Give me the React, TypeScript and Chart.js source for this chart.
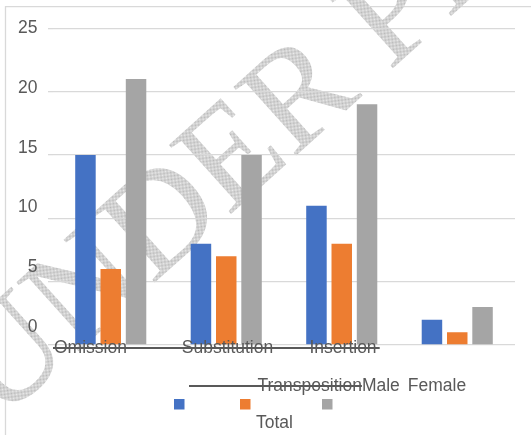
import React, { useEffect, useRef } from "react";
import { Chart, registerables } from "chart.js";

Chart.register(...registerables);

const categories = ["Omission", "Substitution", "Insertion", "Transposition"];
const seriesNames = ["Male", "Female", "Total"];
const maleValues = [15, 8, 11, 2];
const femaleValues = [6, 7, 8, 1];
const totalValues = [21, 15, 19, 3];
const yTickValues = [0, 5, 10, 15, 20, 25];
const seriesColors = ["#4472C4", "#ED7D31", "#A5A5A5"];
const watermarkText = "UNDER PEER REVIEW";

const FONT = '17.5px "Liberation Sans", Arial, sans-serif';
const TEXT = "#595959";

const overlay = {
  id: "overlay",
  beforeDraw(chart: any) {
    const ctx = chart.ctx;
    const W = chart.width;
    const H = chart.height;
    ctx.save();
    ctx.fillStyle = "#ffffff";
    ctx.fillRect(0, 0, W, H);
    // border
    ctx.strokeStyle = "#d9d9d9";
    ctx.lineWidth = 1.3;
    ctx.beginPath();
    ctx.moveTo(5.5, H);
    ctx.lineTo(5.5, 6.7);
    ctx.lineTo(W, 6.7);
    ctx.stroke();
    // watermark with dithered pattern
    const pc = document.createElement("canvas");
    pc.width = 2;
    pc.height = 2;
    const pctx = pc.getContext("2d")!;
    pctx.fillStyle = "#b8b8b8";
    pctx.fillRect(0, 0, 1, 1);
    pctx.fillRect(1, 1, 1, 1);
    pctx.fillStyle = "#ececec";
    pctx.fillRect(1, 0, 1, 1);
    pctx.fillRect(0, 1, 1, 1);
    const pat = ctx.createPattern(pc, "repeat");
    ctx.translate(-0.6, 422.6);
    ctx.rotate((-42 * Math.PI) / 180);
    ctx.font = '142px "Liberation Serif", "Times New Roman", serif';
    ctx.textBaseline = "alphabetic";
    ctx.textAlign = "left";
    ctx.fillStyle = pat || "#d6d6d6";
    ctx.fillText(watermarkText, 0, 0);
    ctx.restore();
  },
  afterDatasetsDraw(chart: any) {
    const ctx = chart.ctx;
    const x = chart.scales.x;
    const y = chart.scales.y;
    const top = y.getPixelForValue(25);
    const bottom = y.getPixelForValue(0);
    ctx.save();
    ctx.font = FONT;
    ctx.fillStyle = TEXT;
    ctx.textBaseline = "alphabetic";
    // y labels
    ctx.textAlign = "right";
    const yMax = yTickValues[yTickValues.length - 1];
    const a = top + 4.7;
    const b = bottom - 13;
    yTickValues.forEach((v) => {
      ctx.fillText(String(v), 37.5, a + ((yMax - v) / yMax) * (b - a));
    });
    // category labels (first three sit on baseline)
    const catW = x.getPixelForValue(1) - x.getPixelForValue(0);
    ctx.textAlign = "left";
    for (let i = 0; i < 3; i++) {
      const lx = x.getPixelForValue(i) - catW / 2 + 1 + i * catW * 0.106;
      ctx.fillText(categories[i], lx, bottom + 8);
    }
    // axis line
    const slot = (catW * 0.657) / 3;
    ctx.strokeStyle = TEXT;
    ctx.lineWidth = 2;
    ctx.beginPath();
    ctx.moveTo(x.getPixelForValue(0) - catW / 2, bottom + 3);
    ctx.lineTo(x.getPixelForValue(2) + slot * 1.5, bottom + 3);
    ctx.stroke();
    // wrapped text row: Transposition Male Female
    const rowY = 391;
    let cx = 257.5;
    ctx.fillText(categories[3], cx, rowY);
    const tw = ctx.measureText(categories[3]).width;
    ctx.beginPath();
    ctx.moveTo(189, rowY - 5);
    ctx.lineTo(cx + tw, rowY - 5);
    ctx.stroke();
    cx += tw;
    ctx.fillText(seriesNames[0], cx, rowY);
    cx += ctx.measureText(seriesNames[0]).width + 8;
    ctx.fillText(seriesNames[1], cx, rowY);
    // legend squares
    const sq = [174, 240, 322];
    seriesColors.forEach((c, i) => {
      ctx.fillStyle = c;
      ctx.fillRect(sq[i], 399, 10.5, 10.5);
    });
    ctx.fillStyle = TEXT;
    ctx.fillText(seriesNames[2], 256, 427.5);
    ctx.restore();
  },
};

export default function App() {
  const ref = useRef<HTMLCanvasElement | null>(null);
  useEffect(() => {
    if (!ref.current) return;
    const chart = new Chart(ref.current, {
      type: "bar",
      data: {
        labels: categories,
        datasets: [
          { label: seriesNames[0], data: maleValues, backgroundColor: seriesColors[0] },
          { label: seriesNames[1], data: femaleValues, backgroundColor: seriesColors[1] },
          { label: seriesNames[2], data: totalValues, backgroundColor: seriesColors[2] },
        ],
      },
      options: {
        animation: false,
        responsive: true,
        maintainAspectRatio: false,
        devicePixelRatio: 1,
        layout: { padding: { left: 48, right: 16, top: 28.3, bottom: 90 } },
        datasets: {
          bar: { categoryPercentage: 0.657, barPercentage: 0.81 },
        },
        plugins: { legend: { display: false }, tooltip: { enabled: false } },
        scales: {
          x: {
            display: true,
            grid: { display: false, drawTicks: false },
            border: { display: false },
            ticks: { display: false },
          },
          y: {
            min: 0,
            max: 25,
            grid: { color: "#d9d9d9", lineWidth: 1.3, drawTicks: true, tickLength: 5 },
            border: { display: false },
            ticks: { display: false, stepSize: 5 },
          },
        },
      },
      plugins: [overlay],
    });
    return () => chart.destroy();
  }, []);
  return (
    <div style={{ position: "fixed", left: 0, top: 0, width: 531, height: 435 }}>
      <canvas ref={ref} />
    </div>
  );
}
